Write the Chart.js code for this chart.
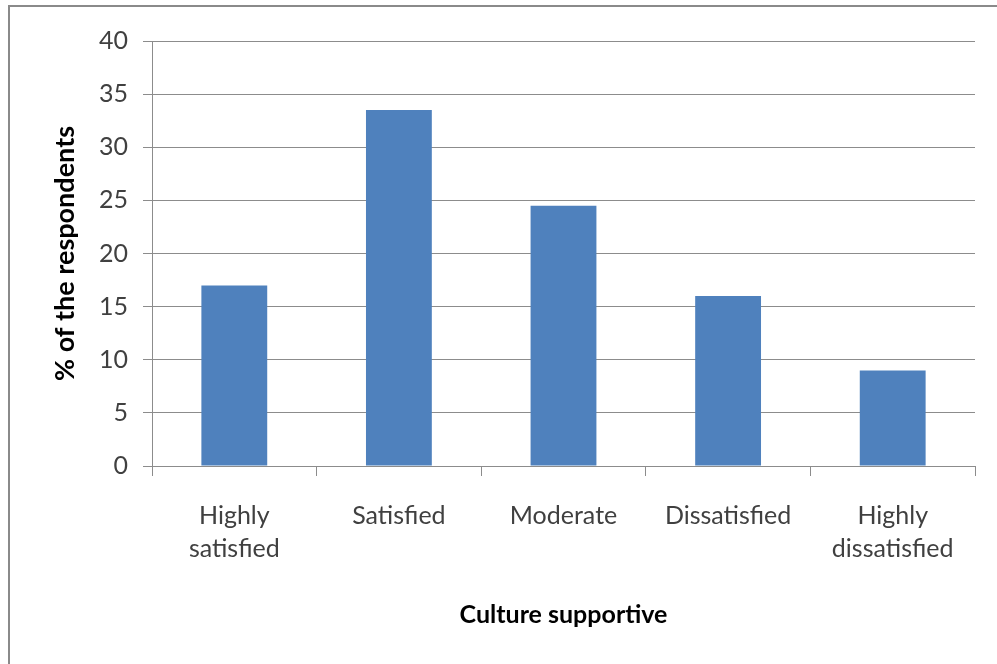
<!DOCTYPE html>
<html>
<head>
<meta charset="utf-8">
<script src="https://cdn.jsdelivr.net/npm/chart.js@4.4.0/dist/chart.umd.min.js"></script>
<style>
  html, body { margin: 0; padding: 0; background: #fff; overflow: hidden; }
  #wrap { position: relative; width: 997px; height: 664px; }
  #frame { position: absolute; left: 8px; top: 5px; width: 1000px; height: 700px; border: 2px solid #8a8a8a; }
  canvas { position: absolute; left: 0; top: 0; }
</style>
</head>
<body>
<div id="wrap">
  <div id="frame"></div>
  <canvas id="myChart" width="997" height="664"></canvas>
</div>
<script>
var categories = [['Highly', 'satisfied'], 'Satisfied', 'Moderate', 'Dissatisfied', ['Highly', 'dissatisfied']];
var respondents = [17, 33.5, 24.5, 16, 9];
var yTicks = [0, 5, 10, 15, 20, 25, 30, 35, 40];

var ctx = document.getElementById('myChart').getContext('2d');
var myChart = new Chart(ctx, {
    type: 'bar',
    data: {
        labels: categories,
        datasets: [
        {
            label: '% of the respondents',
            data: respondents,
            backgroundColor: '#4f81bd',
            borderWidth: 0,
            barPercentage: 0.5,
            categoryPercentage: 0.8
        }
    ],
    },
    options: {
        responsive: false,
        animation: false,
        layout: {
            padding: { top: 41, right: 22, bottom: 0, left: 0 }
        },
        plugins: {
            legend: { display: false },
            tooltip: { enabled: false }
        },
        scales: {
            x: {
                grid: {
                    drawOnChartArea: false,
                    drawTicks: true,
                    tickLength: 10,
                    color: '#8c8c8c',
                    offset: true
                },
                border: { color: '#8c8c8c' },
                ticks: {
                    color: '#404040',
                    padding: 23,
                    maxRotation: 0,
                    font: { family: 'Lato', size: 25, lineHeight: 1.34 }
                },
                title: {
                    display: true,
                    text: 'Culture supportive',
                    color: '#000',
                    padding: { top: 0, bottom: 34 },
                    font: { family: 'Lato', size: 25, weight: 'bold' }
                },
                afterFit: function (scale) { scale.height = 198; }
            },
            y: {
                min: 0,
                max: 40,
                afterBuildTicks: function (scale) {
                    scale.ticks = yTicks.map(function (v) { return { value: v }; });
                },
                grid: {
                    color: '#8c8c8c',
                    tickLength: 9
                },
                border: { color: '#8c8c8c' },
                ticks: {
                    color: '#404040',
                    padding: 15,
                    font: { family: 'Lato', size: 25 }
                },
                title: {
                    display: true,
                    text: '% of the respondents',
                    color: '#000',
                    padding: { top: 49, bottom: 0 },
                    font: { family: 'Lato', size: 27, weight: 'bold' }
                },
                afterFit: function (scale) { scale.width = 152; }
            }
        }
    }
});
</script>
</body>
</html>
